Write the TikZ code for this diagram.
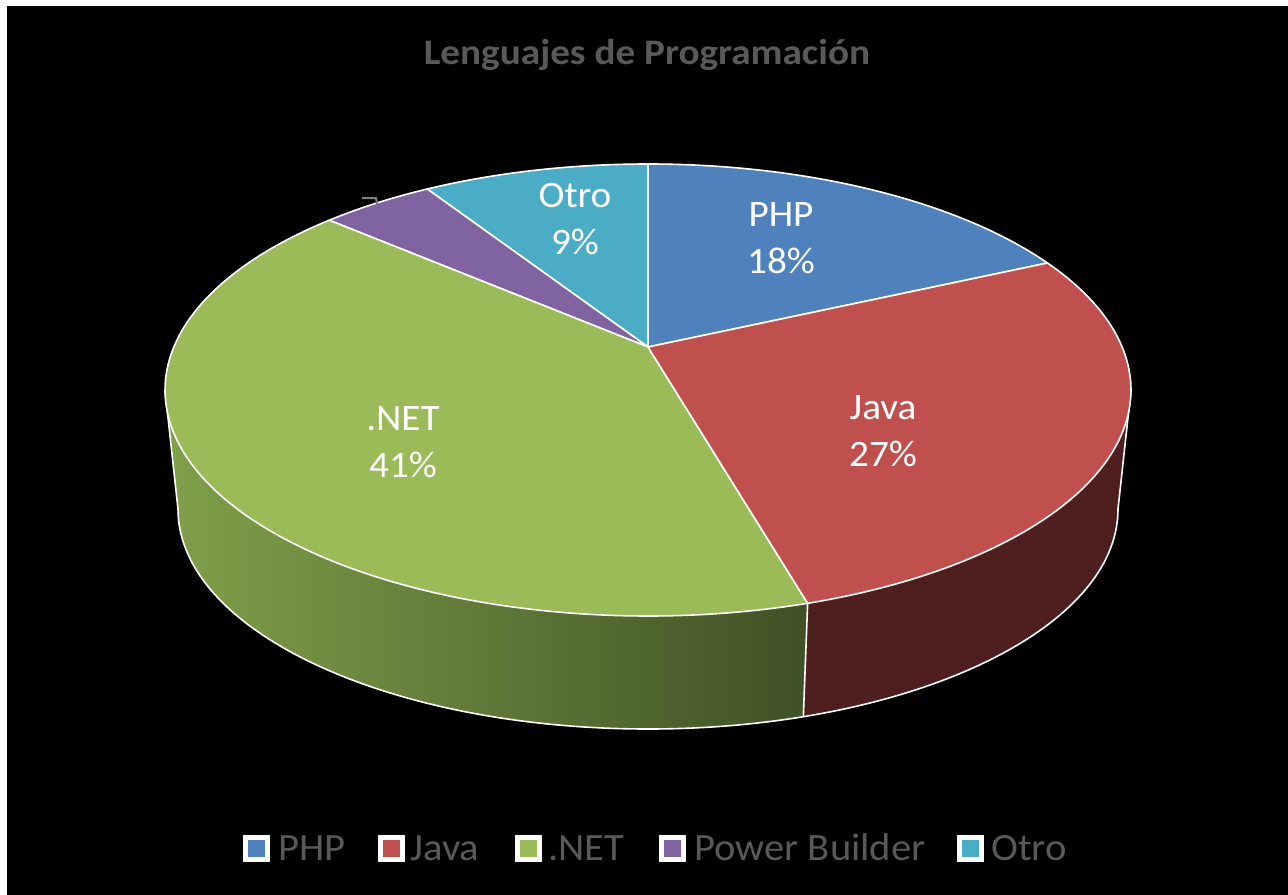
\documentclass[tikz,border=0pt]{standalone}
\usepackage{graphicx}
\usepackage{fontspec}
\setmainfont{Carlito}
\definecolor{phpblue}{HTML}{4F81BD}
\definecolor{javared}{HTML}{C0504D}
\definecolor{netgreen}{HTML}{9BBB59}
\definecolor{pbpurple}{HTML}{8064A2}
\definecolor{otrocyan}{HTML}{4BACC6}
\definecolor{greenside1}{HTML}{80A04A}
\definecolor{greenside2}{HTML}{3F5126}
\definecolor{redside}{HTML}{4F1F1F}
\definecolor{txtgray}{HTML}{595959}
\newcommand{\hstretch}[2][1.05]{\scalebox{#1}[1]{#2}}
\begin{document}
\begin{tikzpicture}[x=0.75pt,y=0.75pt,
  slice/.style={draw=white,line width=1.2pt,line join=round},
  lbl/.style={text=white,align=center,font=\fontsize{28}{35}\selectfont},
  legbox/.style={draw=none,fill=white,minimum size=20.25pt,inner sep=0pt},
  legtxt/.style={text=txtgray,anchor=base west,inner sep=0pt,font=\fontsize{29}{33}\selectfont}]
\useasboundingbox (0,0) rectangle (1288,-895);
\fill[white] (0,0) rectangle (1288,-895);
\fill[black] (7,-6) rectangle (1288,-895);
\coordinate (C) at (648,-390);
\coordinate (B) at (648,-509);
\coordinate (A) at (648,-347);
% sides
\shade[left color=greenside1,right color=greenside2]
  ([shift={(C)}]180:483 and 226) arc[start angle=180,end angle=289.3,x radius=483,y radius=226]
  -- ([shift={(B)}]289.3:470 and 220) arc[start angle=289.3,end angle=180,x radius=470,y radius=220] -- cycle;
\fill[redside]
  ([shift={(C)}]289.3:483 and 226) arc[start angle=289.3,end angle=360,x radius=483,y radius=226]
  -- ([shift={(B)}]360:470 and 220) arc[start angle=360,end angle=289.3,x radius=470,y radius=220] -- cycle;
\draw[slice]
  ([shift={(C)}]180:483 and 226) -- ([shift={(B)}]180:470 and 220)
  arc[start angle=180,end angle=360,x radius=470,y radius=220]
  -- ([shift={(C)}]360:483 and 226);
\draw[slice] ([shift={(C)}]289.3:483 and 226) -- ([shift={(B)}]289.3:470 and 220);
% top slices
\filldraw[slice,fill=phpblue] (A) -- ([shift={(C)}]34.2:483 and 226) arc[start angle=34.2,end angle=90,x radius=483,y radius=226] -- cycle;
\filldraw[slice,fill=otrocyan] (A) -- ([shift={(C)}]90:483 and 226) arc[start angle=90,end angle=117.2,x radius=483,y radius=226] -- cycle;
\filldraw[slice,fill=pbpurple] (A) -- ([shift={(C)}]117.2:483 and 226) arc[start angle=117.2,end angle=131.3,x radius=483,y radius=226] -- cycle;
\filldraw[slice,fill=netgreen] (A) -- ([shift={(C)}]131.3:483 and 226) arc[start angle=131.3,end angle=289.3,x radius=483,y radius=226] -- cycle;
\filldraw[slice,fill=javared] (A) -- ([shift={(C)}]-70.7:483 and 226) arc[start angle=-70.7,end angle=34.2,x radius=483,y radius=226] -- cycle;
% leader fragment
\draw[gray,line width=1.5pt] (362,-198) -- (376,-198) -- (377,-204);
% labels
\node[lbl] (lotro) at (575,-219) {\hstretch{Otro}\\\hstretch{9\%}};
\node[lbl] (lphp) at (781,-238) {\hstretch{PHP}\\\hstretch{18\%}};
\node[lbl] (ljava) at (883,-431) {\hstretch{Java}\\\hstretch{27\%}};
\node[lbl] (lnet) at (403,-442) {\hstretch{.NET}\\\hstretch{41\%}};
% title
\node[text=txtgray,font=\bfseries\fontsize{27}{30}\selectfont] (title) at (647,-55) {\hstretch[1.09]{Lenguajes de Programación}};
% legend
\node[legbox] (s1) at (256,-848) {}; \fill[phpblue] (s1.center) ++(-8.5,-8.5) rectangle ++(17,17);
\node[legtxt] (t1) at (278,-860) {\hstretch{PHP}};
\node[legbox] (s2) at (391,-848) {}; \fill[javared] (s2.center) ++(-8.5,-8.5) rectangle ++(17,17);
\node[legtxt] (t2) at (410,-860) {\hstretch{Java}};
\node[legbox] (s3) at (528,-848) {}; \fill[netgreen] (s3.center) ++(-8.5,-8.5) rectangle ++(17,17);
\node[legtxt] (t3) at (548,-860) {\hstretch{.NET}};
\node[legbox] (s4) at (672,-848) {}; \fill[pbpurple] (s4.center) ++(-8.5,-8.5) rectangle ++(17,17);
\node[legtxt] (t4) at (694,-860) {\hstretch{Power Builder}};
\node[legbox] (s5) at (970,-848) {}; \fill[otrocyan] (s5.center) ++(-8.5,-8.5) rectangle ++(17,17);
\node[legtxt] (t5) at (991,-860) {\hstretch{Otro}};
\end{tikzpicture}
\end{document}
